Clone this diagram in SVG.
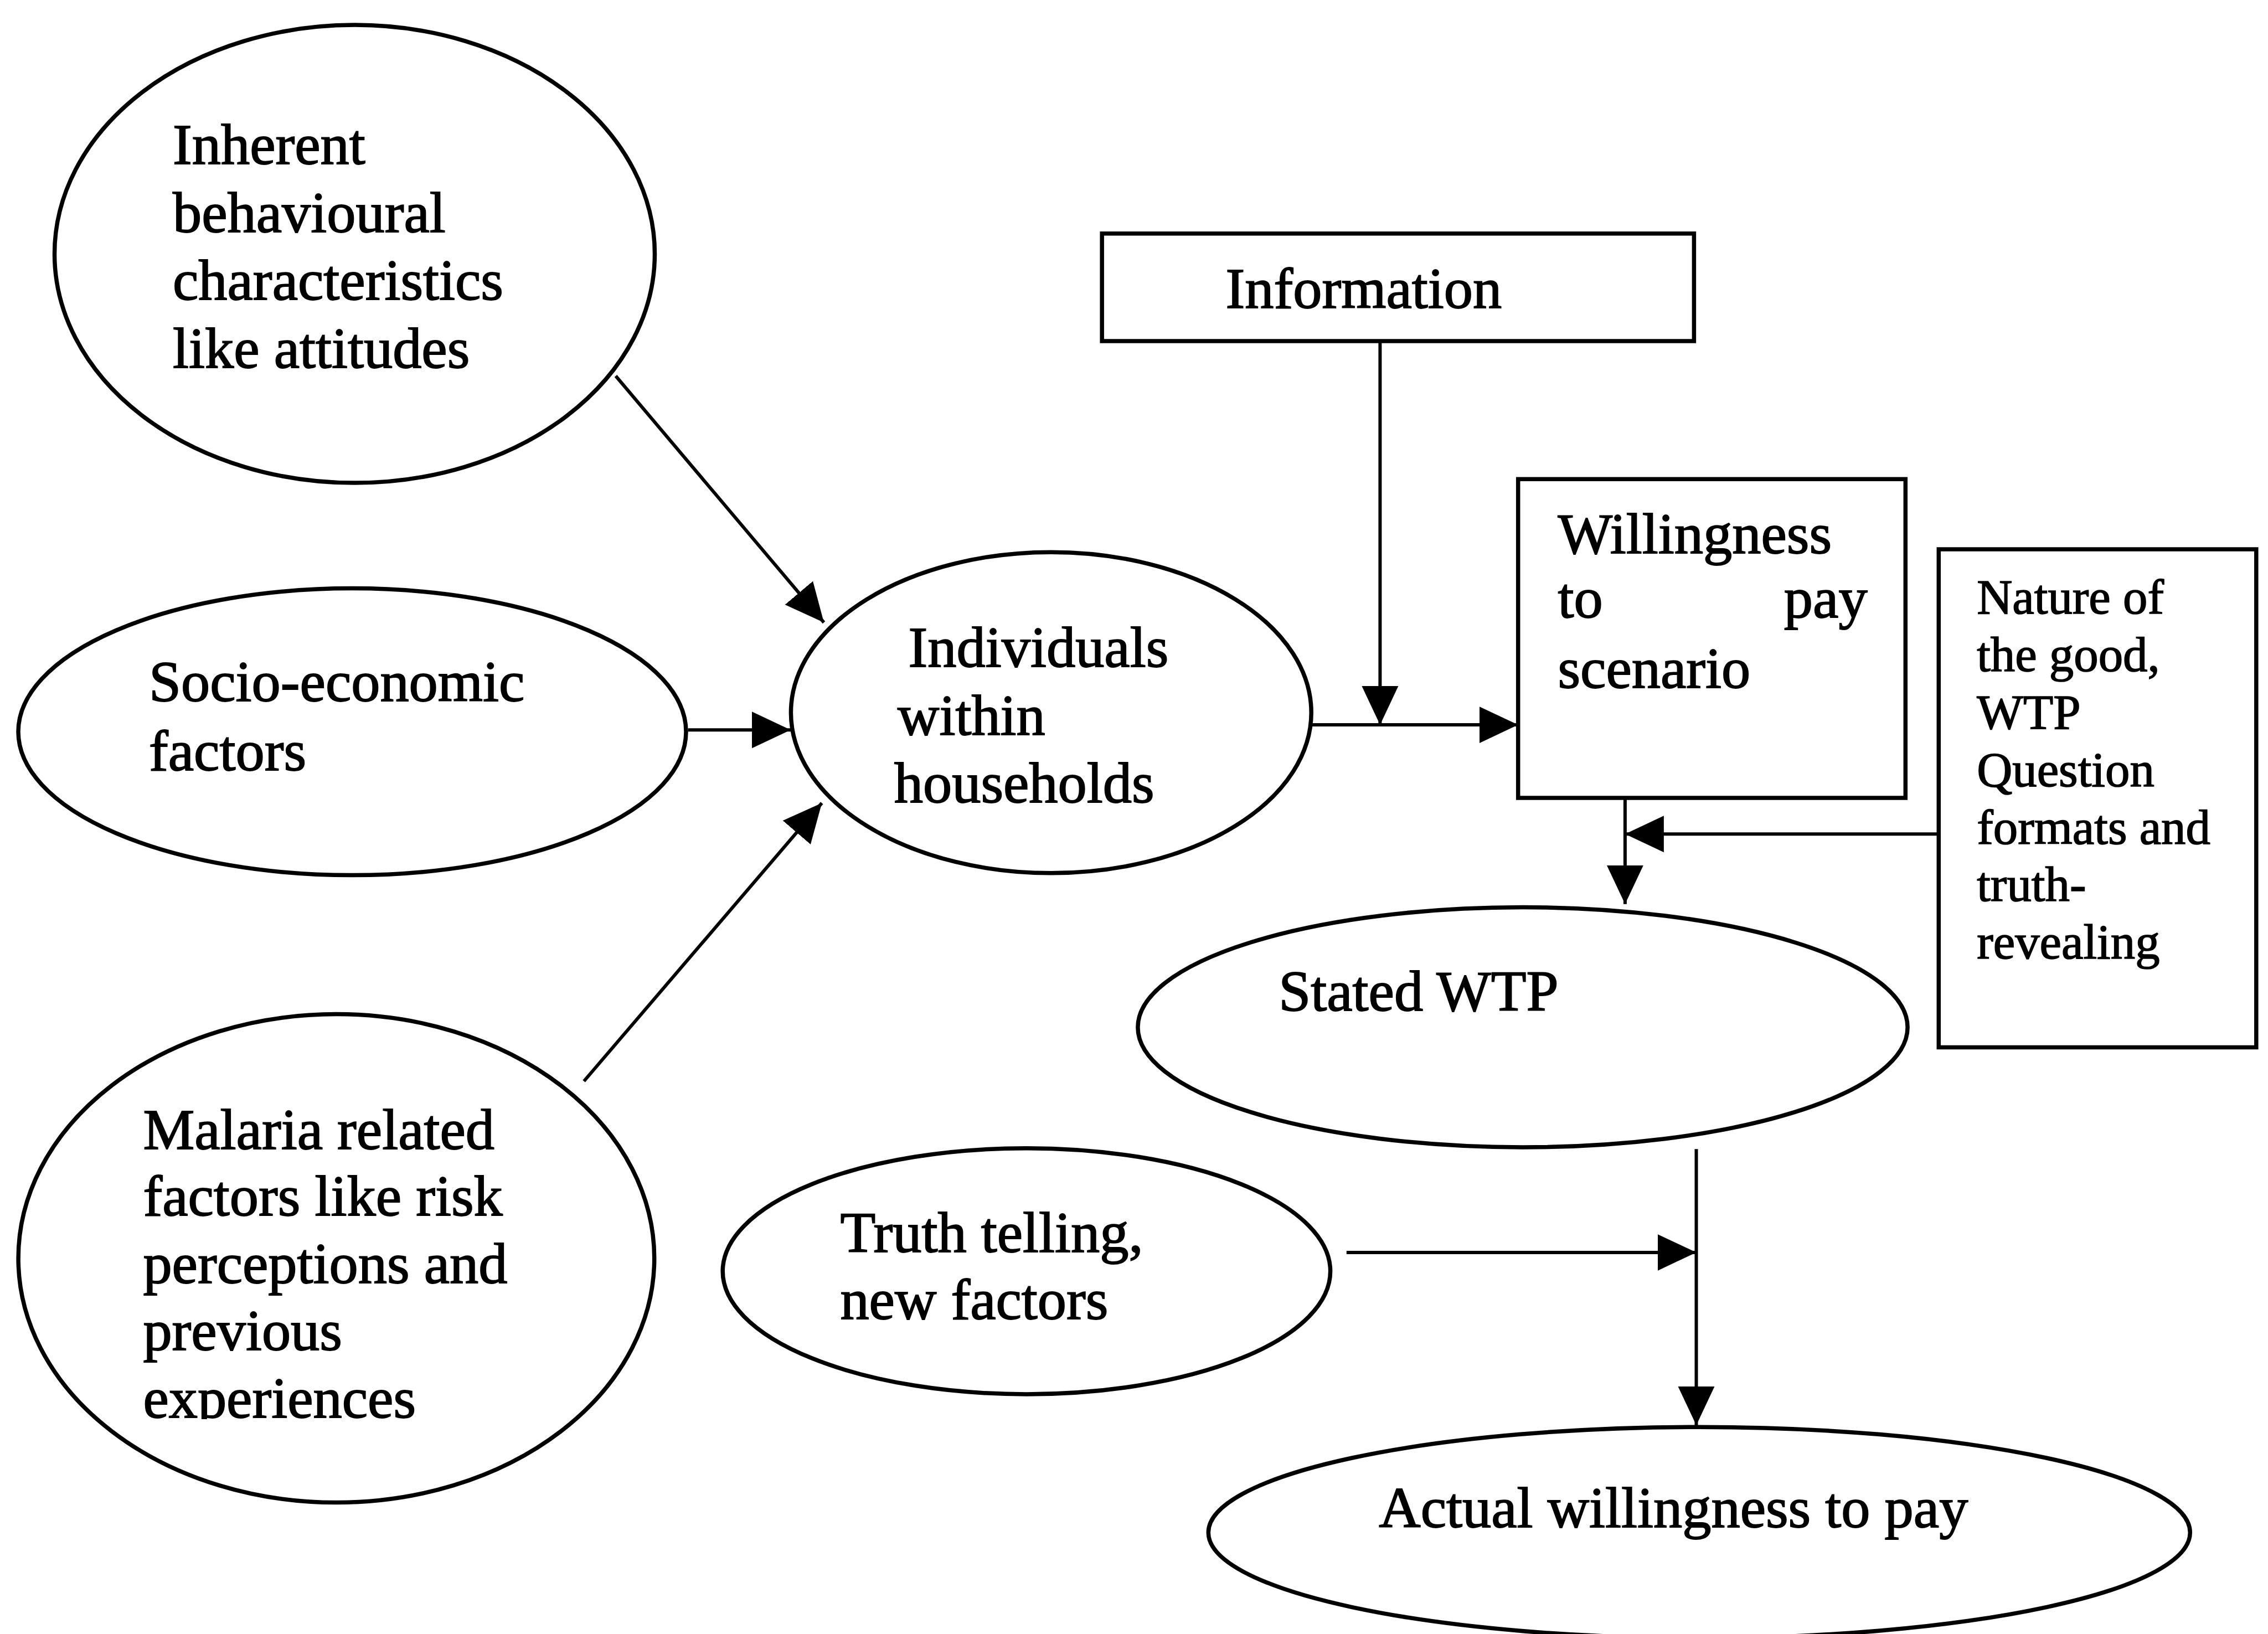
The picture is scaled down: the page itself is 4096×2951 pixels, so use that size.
<svg xmlns="http://www.w3.org/2000/svg" width="4096" height="2951" viewBox="0 0 4096 2951">
<style>
.n{fill:#fff;stroke:#000;stroke-width:7.5}
.t{font-family:"Liberation Serif","Times New Roman",serif;font-size:104.4px;fill:#000;stroke:#000;stroke-width:1.8}
.s{font-family:"Liberation Serif","Times New Roman",serif;font-size:88.8px;fill:#000;stroke:#000;stroke-width:1.6}
.c{stroke:#000;stroke-width:6;fill:none;marker-end:url(#ah)}
</style>
<defs>
<marker id="ah" markerUnits="userSpaceOnUse" markerWidth="74" markerHeight="74" viewBox="0 -37 74 74" refX="70" refY="0" orient="auto">
<path d="M0,-33 L70,0 L0,33 z" fill="#000"/>
</marker>
<clipPath id="clipExp"><rect x="0" y="2400" width="1400" height="163"/></clipPath>
</defs>
<rect width="4096" height="2951" fill="#fff"/>
<g id="inherent">
<ellipse class="n" cx="640.5" cy="458.6" rx="542" ry="413.5"/>
<text class="t" x="312" y="296">Inherent</text>
<text class="t" x="312" y="418.5">behavioural</text>
<text class="t" x="312" y="541">characteristics</text>
<text class="t" x="312" y="663.5">like attitudes</text>
</g>
<g id="socio">
<ellipse class="n" cx="636" cy="1321.6" rx="603" ry="259"/>
<text class="t" x="269" y="1266">Socio-economic</text>
<text class="t" x="269" y="1391">factors</text>
</g>
<g id="malaria">
<ellipse class="n" cx="607.4" cy="2272.6" rx="574.3" ry="441"/>
<text class="t" x="258.4" y="2075">Malaria related</text>
<text class="t" x="258.4" y="2195.3">factors like risk</text>
<text class="t" x="258.4" y="2316.7">perceptions and</text>
<text class="t" x="258.4" y="2438">previous</text>
<text class="t" x="258.4" y="2559.5" clip-path="url(#clipExp)">experiences</text>
</g>
<g id="individuals">
<ellipse class="n" cx="1898.3" cy="1287" rx="469.9" ry="289.8"/>
<text class="t" x="1640.6" y="1204.2">Individuals</text>
<text class="t" x="1621" y="1327">within</text>
<text class="t" x="1614.8" y="1448.8">households</text>
</g>
<g id="information">
<rect class="n" x="1990.2" y="421.8" width="1069.2" height="194.2"/>
<text class="t" x="2213.6" y="556">Information</text>
</g>
<g id="scenario">
<rect class="n" x="2741.7" y="865.3" width="699.6" height="575.7"/>
<text class="t" x="2813.5" y="999.3">Willingness</text>
<text class="t" x="2813.5" y="1114.6">to</text>
<text class="t" x="3372.6" y="1114.6" text-anchor="end">pay</text>
<text class="t" x="2813.5" y="1242">scenario</text>
</g>
<g id="nature">
<rect class="n" x="3501.3" y="992" width="573.5" height="899.5"/>
<text class="s" x="3570.2" y="1107.9">Nature of</text>
<text class="s" x="3570.2" y="1211.8">the good,</text>
<text class="s" x="3570.2" y="1315.7">WTP</text>
<text class="s" x="3570.2" y="1419.6">Question</text>
<text class="s" x="3570.2" y="1523.5">formats and</text>
<text class="s" x="3570.2" y="1627.4">truth-</text>
<text class="s" x="3570.2" y="1731.3">revealing</text>
</g>
<g id="stated">
<ellipse class="n" cx="2750" cy="1855.2" rx="695.1" ry="216.7"/>
<text class="t" x="2309.2" y="1824.7">Stated WTP</text>
</g>
<g id="truth">
<ellipse class="n" cx="1853.9" cy="2295.8" rx="548.7" ry="222.1"/>
<text class="t" x="1517.4" y="2260.6">Truth telling,</text>
<text class="t" x="1517.4" y="2382.2">new factors</text>
</g>
<g id="actual">
<ellipse class="n" cx="3068.8" cy="2767.8" rx="886.5" ry="190.6"/>
<text class="t" x="2490.3" y="2757.9">Actual willingness to pay</text>
</g>
<g id="connectors">
<line class="c" x1="1112" y1="679" x2="1488" y2="1124.3"/>
<line class="c" x1="1242.5" y1="1318.3" x2="1428" y2="1318.3"/>
<line class="c" x1="1054.6" y1="1952.6" x2="1484.3" y2="1450.3"/>
<line class="c" x1="2368.7" y1="1309.1" x2="2741.7" y2="1309.1"/>
<line class="c" x1="2492.4" y1="616" x2="2492.4" y2="1309.1"/>
<line class="c" x1="2934.9" y1="1441" x2="2934.9" y2="1632.8"/>
<line class="c" x1="3501.3" y1="1506.2" x2="2934.9" y2="1506.2"/>
<line class="c" x1="3063.5" y1="2075.3" x2="3063.5" y2="2573.9"/>
<line class="c" x1="2431.8" y1="2261.9" x2="3063.5" y2="2261.9"/>
</g>
</svg>
